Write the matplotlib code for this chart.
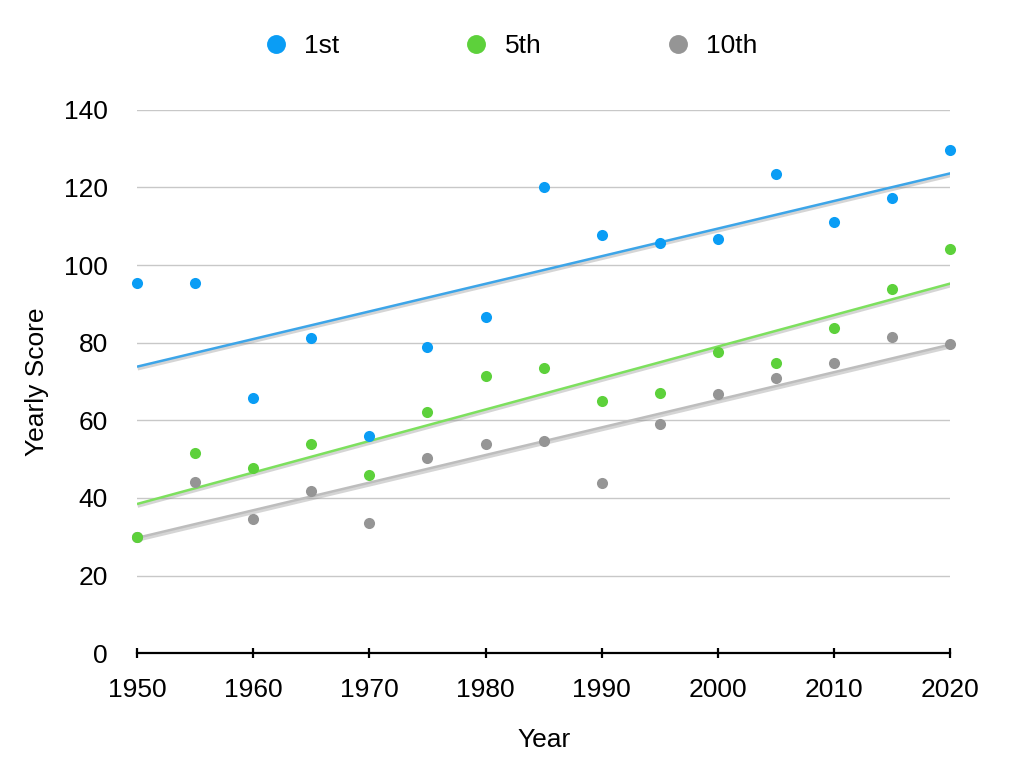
import numpy as np
import matplotlib
matplotlib.use("Agg")
import matplotlib.pyplot as plt
import matplotlib.patheffects as pe

plt.rcParams['font.family'] = ['Liberation Sans', 'DejaVu Sans']

years = [1950, 1955, 1960, 1965, 1970, 1975, 1980, 1985, 1990, 1995, 2000, 2005, 2010, 2015, 2020]
first = [95.3, 95.3, 65.8, 81.1, 56.0, 78.9, 86.6, 120.0, 107.7, 105.6, 106.8, 123.4, 111.2, 117.3, 129.7]
fifth = [30.0, 51.6, 47.7, 53.9, 45.9, 62.1, 71.5, 73.6, 65.0, 67.0, 77.6, 74.8, 83.9, 93.8, 104.2]
tenth = [30.0, 44.0, 34.7, 41.7, 33.6, 50.3, 54.0, 54.6, 43.9, 59.1, 66.8, 70.8, 74.7, 81.4, 79.7]
series_names = ['1st', '5th', '10th']
dot_colors = ['#0A9DF5', '#5DD13B', '#959595']
line_colors = ['#3DA5E8', '#7DE05E', '#BDBDBD']
x_ticks = [1950, 1960, 1970, 1980, 1990, 2000, 2010, 2020]
y_ticks = [0, 20, 40, 60, 80, 100, 120, 140]

FS = 19

fig = plt.figure(figsize=(10.24, 7.74), dpi=100)
ax = fig.add_axes([137/1024, 1 - 653.3/774, (950.3-137)/1024, (653.3-109.7)/774])

xs = np.array(years, dtype=float)
all_series = [first, fifth, tenth]
# trend lines
for ys, lc in zip(all_series, line_colors):
    m, b = np.polyfit(xs, np.array(ys), 1)
    ax.plot(xs, m * xs + b, color=lc, lw=1.8, zorder=3,
            path_effects=[pe.SimpleLineShadow(offset=(0.5, -1.5), shadow_color='#888888', alpha=0.35, linewidth=2.5), pe.Normal()],
            solid_capstyle='butt')

# scatter points (gray first, then green, then blue)
handles = []
for ys, c, name, z in zip(all_series, dot_colors, series_names, [6, 5, 4]):
    h, = ax.plot(years, ys, 'o', color=c, markersize=8, markeredgewidth=0, zorder=z, label=name, clip_on=False)
    handles.append(h)

ax.set_xlim(1950, 2020)
ax.set_ylim(0, 140)
ax.set_yticks(y_ticks)
ax.set_xticks(x_ticks)
ax.grid(axis='y', color='#C8C8C8', lw=1.0)
ax.set_axisbelow(True)
for s in ['top', 'right', 'left']:
    ax.spines[s].set_visible(False)
ax.spines['bottom'].set_linewidth(1.6)
ax.spines['bottom'].set_color('black')
ax.spines['bottom'].set_zorder(7)
ax.tick_params(axis='x', direction='inout', length=7, width=1.6, labelsize=FS, pad=14)
ax.tick_params(axis='y', length=0, labelsize=FS, pad=21)

ax.set_xlabel('Year', fontsize=FS, labelpad=19)
ax.set_ylabel('Yearly Score', fontsize=FS, labelpad=11)

leg = fig.legend(handles=handles, labels=series_names, loc='center', bbox_to_anchor=(509/1024, 1 - 46/774),
                 ncol=3, frameon=False, fontsize=FS, markerscale=1.7, handletextpad=0.46,
                 columnspacing=4.6, handlelength=1.2)

fig.savefig('out.png', dpi=100)
